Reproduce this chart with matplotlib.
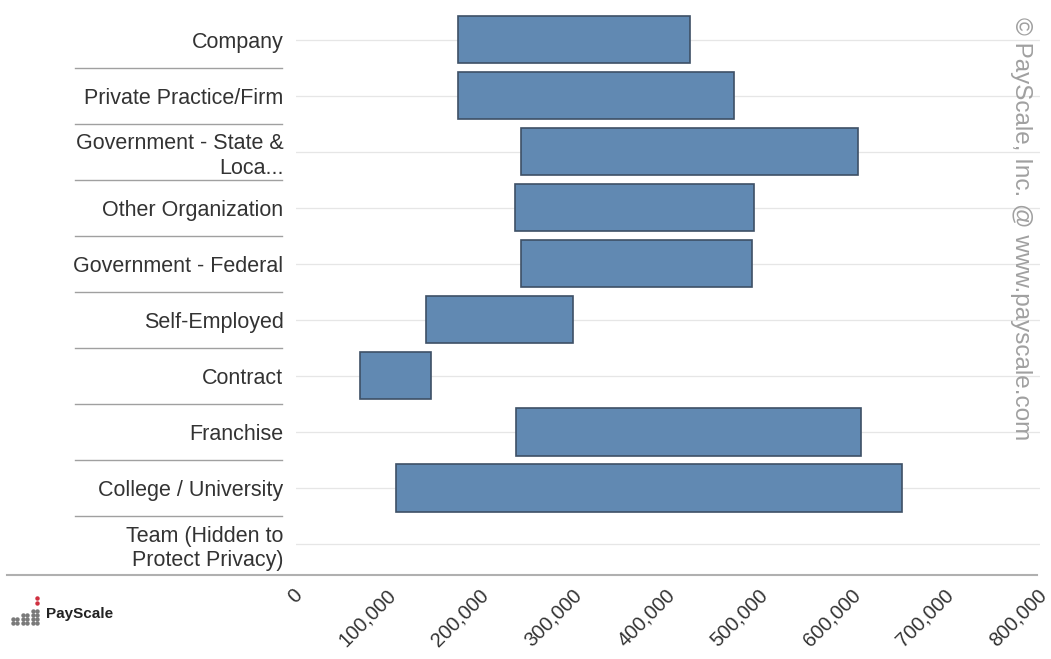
import matplotlib
matplotlib.use("Agg")
import matplotlib.pyplot as plt
import matplotlib.transforms as mtransforms
from matplotlib.lines import Line2D
from matplotlib.ticker import FuncFormatter

plt.rcParams['font.family'] = ['Liberation Sans', 'DejaVu Sans']

# employer types, top to bottom
employers = [
    "Company",
    "Private Practice/Firm",
    "Government - State &\nLoca...",
    "Other Organization",
    "Government - Federal",
    "Self-Employed",
    "Contract",
    "Franchise",
    "College / University",
    "Team (Hidden to\nProtect Privacy)",
]
# salary range low / high (None where hidden)
range_low = [174000, 174000, 242000, 236000, 242000, 140000, 69000, 237000, 108000, None]
range_high = [424000, 471000, 604000, 492000, 490000, 298000, 145000, 608000, 652000, None]
x_ticks = [0, 100000, 200000, 300000, 400000, 500000, 600000, 700000, 800000]

bar_color = "#6189b2"
edge_color = "#3e5066"
text_color = "#333333"

fig = plt.figure(figsize=(10.51, 6.59), dpi=100)
ax = fig.add_axes([0.2816, 0.132, 0.708, 0.85])

n = len(employers)
ypos = list(range(n))
for y, lo, hi in zip(ypos, range_low, range_high):
    if lo is None:
        continue
    ax.barh(y, hi - lo, left=lo, height=0.84, color=bar_color,
            edgecolor=edge_color, linewidth=1.2, zorder=3)

# faint row gridlines
for y in ypos:
    ax.axhline(y, color="#e6e6e6", linewidth=0.9, zorder=1)

ax.set_xlim(0, 800000)
ax.set_ylim(n - 0.5, -0.5)
ax.set_yticks(ypos)
ax.set_yticklabels(employers, fontsize=15.5, color=text_color,
                   linespacing=1.22)
ax.set_xticks(x_ticks)
ax.xaxis.set_major_formatter(FuncFormatter(lambda v, p: f"{int(v):,}"))
ax.tick_params(axis="both", length=0)
ax.tick_params(axis="y", pad=9)
ax.tick_params(axis="x", pad=10)
shift = mtransforms.ScaledTranslation(-3 / 100, 0, fig.dpi_scale_trans)
for lbl in ax.get_xticklabels():
    lbl.set_rotation(45)
    lbl.set_ha("right")
    lbl.set_rotation_mode("anchor")
    lbl.set_fontsize(14.5)
    lbl.set_color(text_color)
    lbl.set_transform(lbl.get_transform() + shift)
for s in ax.spines.values():
    s.set_visible(False)

# row separators in the label column
sep_tr = mtransforms.blended_transform_factory(fig.transFigure, ax.transData)
for y in ypos[:-1]:
    ax.add_line(Line2D([75 / 1051, 282 / 1051], [y + 0.5, y + 0.5],
                       transform=sep_tr, color="#a0a0a0", linewidth=1.0,
                       clip_on=False))

# bottom rule across the whole chart
fig.add_artist(Line2D([7 / 1051, 1037 / 1051], [1 - 575 / 659, 1 - 575 / 659],
                      color="#b0b0b0", linewidth=1.5))

# watermark
fig.text(1021 / 1051, 1 - 229 / 659, "© PayScale, Inc. @ www.payscale.com",
         rotation=-90, ha="center", va="center", fontsize=17.5,
         color="#a0a0a0")

# small logo: rising columns of dots plus a red accent
col_x = [13, 17, 23, 27, 33, 37]
col_h = [2, 2, 3, 3, 4, 4]
row_y = [623, 619, 615, 611]
for cx, h in zip(col_x, col_h):
    for ry in row_y[:h]:
        fig.add_artist(Line2D([cx / 1051], [1 - ry / 659], marker="o",
                              markersize=2.2, color="#7a7a7a", linestyle=""))
fig.add_artist(Line2D([37 / 1051, 37 / 1051], [1 - 598 / 659, 1 - 603 / 659],
                      marker="o", markersize=2.2, color="#d03040", linestyle=""))
fig.text(46 / 1051, 1 - 614 / 659, "PayScale", fontsize=11, fontweight="bold",
         color="#222222", va="center", ha="left")

fig.savefig("out.png", dpi=100, facecolor="white")
